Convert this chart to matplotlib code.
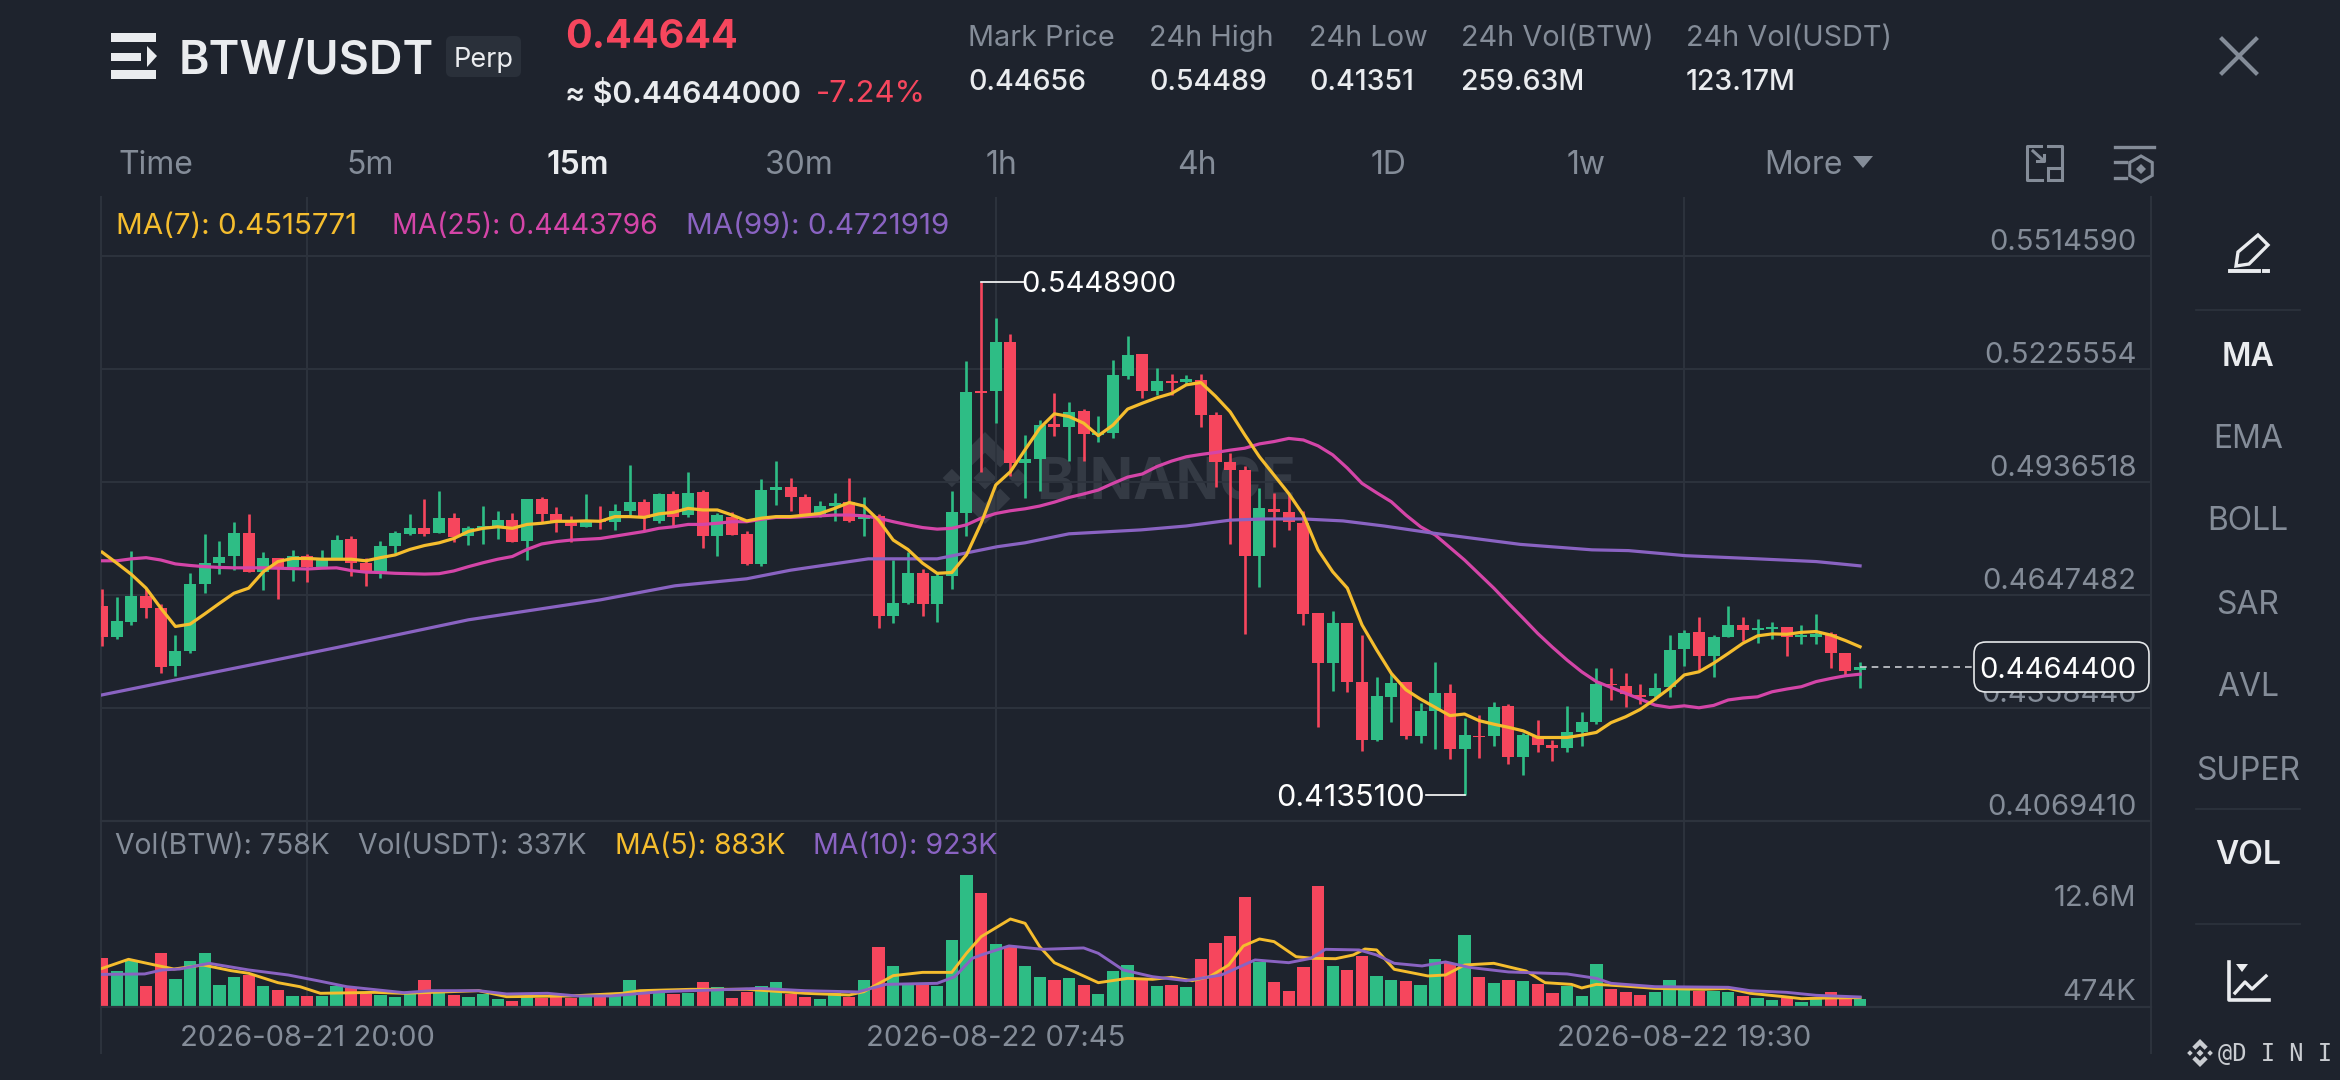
import matplotlib
matplotlib.use('Agg')
import matplotlib.pyplot as plt
from matplotlib.patches import FancyBboxPatch, Polygon, Rectangle, RegularPolygon
import numpy as np

plt.rcParams['font.family'] = ['Inter', 'DejaVu Sans']

# candles
opens = [.4620, .4539, .4579, .4645, .4614, .4465, .4504, .4676, .4730, .4746, .4805, .4707, .4741, .4718, .4747, .4720,
         .4741, .4790, .4730, .4707, .4774, .4803, .4820, .4805, .4844, .4799, .4816, .4824, .4839, .4786, .4893, .4854,
         .4837, .4822, .4839, .4833, .4863, .4886, .4838, .4905, .4852, .4910, .4799, .4848, .4803, .4727, .4917, .4925,
         .4897, .4855, .4875, .4885, .4841, .4850, .4595, .4626, .4703, .4624, .4696, .4856, .5170, .5169, .5294, .4984,
         .4995, .5085, .5076, .5119, .5057, .5063, .5208, .5263, .5169, .5196, .5193, .5197, .5108, .4988, .4967, .4747,
         .4868, .4859, .4832, .4601, .4473, .4576, .4426, .4277, .4387, .4426, .4288, .4352, .4398, .4254, .4288, .4287,
         .4364, .4234, .4287, .4264, .4255, .4298, .4323, .4420, .4415, .4390, .4390, .4411, .4509, .4552, .4491, .4541,
         .4571, .4558, .4561, .4565, .4539, .4541, .4549, .4500, .4456]
highs = [.4662, .4643, .4761, .4665, .4625, .4545, .4705, .4804, .4786, .4834, .4855, .4757, .4743, .4763, .4752, .4763,
         .4802, .4798, .4743, .4786, .4812, .4855, .4894, .4913, .4856, .4824, .4874, .4863, .4858, .4893, .4897, .4872,
         .4850, .4905, .4874, .4879, .4979, .4894, .4908, .4914, .4961, .4916, .4856, .4861, .4811, .4944, .4989, .4946,
         .4905, .4889, .4909, .4946, .4897, .4855, .4737, .4758, .4713, .4707, .4914, .5247, .54489, .5357, .5315, .5057,
         .5095, .5163, .5142, .5123, .5106, .5249, .5310, .5265, .5229, .5214, .5210, .5212, .5115, .5010, .4978, .4920,
         .4909, .4906, .4863, .4601, .4607, .4576, .4545, .4438, .4447, .4426, .4372, .4476, .4421, .4332, .4340, .4374,
         .4368, .4294, .4328, .4277, .4363, .4348, .4460, .4460, .4447, .4419, .4447, .4546, .4558, .4590, .4545, .4619,
         .4591, .4585, .4579, .4566, .4571, .4599, .4554, .4500, .4476]
lows = [.4518, .4536, .4570, .4588, .4447, .4441, .4498, .4652, .4701, .4711, .4707, .4660, .4638, .4683, .4682, .4720,
        .4741, .4697, .4671, .4692, .4756, .4800, .4799, .4805, .4783, .4775, .4778, .4790, .4783, .4737, .4831, .4809,
        .4783, .4821, .4816, .4814, .4848, .4810, .4831, .4822, .4848, .4767, .4747, .4802, .4723, .4722, .4878, .4863,
        .4852, .4848, .4837, .4835, .4798, .4563, .4575, .4625, .4595, .4579, .4662, .4798, .4963, .5087, .4952, .4896,
        .4914, .5055, .4991, .4989, .5039, .5050, .5201, .5152, .5158, .5159, .5187, .5076, .4925, .4778, .4549, .4669,
        .4769, .4814, .4571, .4309, .4403, .4399, .4249, .4273, .4323, .4279, .4270, .4254, .4229, .41351, .4231, .4260,
        .4215, .4186, .4245, .4224, .4245, .4261, .4318, .4379, .4360, .4369, .4379, .4387, .4466, .4456, .4439, .4539,
        .4530, .4525, .4534, .4491, .4521, .4522, .4462, .4440, .4410]
closes = [.4541, .4582, .4645, .4613, .4464, .4504, .4676, .4730, .4744, .4805, .4707, .4743, .4716, .4746, .4718, .4743,
          .4788, .4729, .4704, .4774, .4805, .4820, .4803, .4844, .4797, .4818, .4825, .4839, .4783, .4893, .4855, .4835,
          .4824, .4833, .4834, .4863, .4886, .4844, .4905, .4848, .4909, .4799, .4851, .4802, .4726, .4916, .4925, .4897,
          .4855, .4875, .4882, .4838, .4848, .4595, .4626, .4703, .4624, .4696, .4859, .5167, .5163, .5294, .4986, .4995,
          .5082, .5078, .5116, .5059, .5063, .5209, .5261, .5170, .5195, .5189, .5199, .5108, .4988, .4967, .4747, .4869,
          .4861, .4835, .4600, .4473, .4576, .4426, .4277, .4389, .4423, .4287, .4351, .4398, .4254, .4289, .4283, .4362,
          .4234, .4289, .4264, .4255, .4298, .4323, .4420, .4416, .4394, .4386, .4410, .4508, .4551, .4491, .4541, .4571,
          .4558, .4563, .4566, .4539, .4545, .4548, .4500, .4454, .44644]
volumes = [4.69, 3.45, 4.37, 2.03, 5.13, 2.66, 4.40, 5.13, 2.06, 2.88, 3.01, 2.03, 1.58, 1.01, 1.08, 1.08, 2.00, 1.77,
           1.20, 1.17, .95, 1.30, 2.57, 1.36, 1.11, .98, 1.20, .79, .60, .92, .89, .92, .82, .92, .92, 1.36, 2.60, 1.30,
           1.36, 1.20, 1.36, 2.38, 1.93, .86, 1.39, 2.00, 2.38, 1.24, .95, .79, 1.30, .98, 2.53, 5.67, 3.86, 2.25, 2.19,
           1.96, 6.37, 12.57, 10.86, 5.95, 5.80, 3.93, 2.85, 2.57, 2.79, 2.12, 1.27, 3.39, 3.96, 2.57, 1.96, 2.09, 1.90,
           4.53, 6.11, 6.75, 10.42, 4.31, 2.41, 1.52, 3.83, 11.50, 3.90, 3.55, 4.85, 2.95, 2.53, 2.44, 2.12, 4.56, 4.15,
           6.81, 2.88, 2.31, 2.57, 2.44, 2.22, 1.33, 2.00, 1.08, 4.12, 1.74, 1.43, 1.14, 1.43, 2.60, 1.62, 1.55, 1.52,
           1.46, 1.05, .82, .70, .89, .51, .73, 1.43, .86, .76]

# moving averages
ma7 = [.4757, .4729, .4700, .4665, .4614, .4567, .4573, .4599, .4626, .4652, .4665, .4707, .4733, .4741, .4741, .4739,
       .4739, .4739, .4735, .4743, .4750, .4764, .4774, .4781, .4792, .4810, .4818, .4822, .4818, .4828, .4831, .4836,
       .4836, .4837, .4836, .4848, .4848, .4846, .4855, .4859, .4869, .4865, .4865, .4852, .4837, .4844, .4848, .4848,
       .4852, .4856, .4869, .4884, .4875, .4839, .4788, .4764, .4729, .4703, .4705, .4750, .4831, .4929, .4963, .5019,
       .5074, .5111, .5104, .5087, .5055, .5082, .5123, .5138, .5152, .5163, .5185, .5191, .5156, .5116, .5057, .5001,
       .4954, .4907, .4852, .4763, .4707, .4665, .4571, .4507, .4447, .4405, .4381, .4360, .4339, .4343, .4326, .4317,
       .4309, .4300, .4283, .4283, .4283, .4289, .4296, .4321, .4336, .4355, .4381, .4409, .4443, .4451, .4473, .4498,
       .4524, .4543, .4548, .4547, .4552, .4554, .4545, .4531, .4515]
ma25 = [.4735, .4735, .4740, .4743, .4737, .4727, .4723, .4720, .4718, .4717, .4717, .4717, .4716, .4715, .4714, .4716,
        .4717, .4710, .4706, .4705, .4703, .4702, .4701, .4702, .4709, .4720, .4730, .4739, .4746, .4764, .4778, .4784,
        .4788, .4790, .4792, .4798, .4804, .4810, .4818, .4822, .4828, .4828, .4831, .4835, .4835, .4841, .4846, .4846,
        .4848, .4850, .4852, .4852, .4850, .4844, .4835, .4827, .4820, .4816, .4818, .4827, .4844, .4856, .4863, .4868,
        .4875, .4885, .4897, .4906, .4916, .4933, .4949, .4957, .4976, .4990, .5001, .5007, .5012, .5018, .5023, .5034,
        .5040, .5048, .5044, .5029, .5006, .4972, .4933, .4909, .4886, .4852, .4822, .4801, .4769, .4737, .4701, .4665,
        .4626, .4588, .4549, .4514, .4481, .4451, .4426, .4411, .4396, .4381, .4366, .4360, .4364, .4359, .4365, .4379,
        .4384, .4387, .4400, .4407, .4413, .4426, .4434, .4441, .4445]
ma99_x = [0, 5, 11, 16, 25, 34, 39.1, 44, 47, 52.3, 57, 61.1, 63, 66, 70.9, 74, 77, 79.3, 82, 84.7, 87.5, 90.6, 96.8,
          101.7, 104.2, 108.1, 113, 117, 120]
ma99 = [.4392, .4430, .4475, .4513, .4584, .4635, .4671, .4689, .4711, .4740, .4740, .4771, .4781, .4804, .4814, .4824,
        .4839, .4842, .4842, .4837, .4824, .4807, .4777, .4763, .4761, .4748, .4740, .4733, .4722]
vol_ma5_x = [0, 1.8, 3.9, 4.9, 6.9, 8.8, 10, 12, 13.5, 14.9, 18.6, 20.6, 25.7, 27.6, 32, 35.5, 36.7, 40.2, 44, 48, 51,
             52, 54, 56, 58, 59, 60, 62, 63, 64, 65, 66.6, 68, 70, 71.7, 73, 74.4, 75.6, 76.9, 77.9, 79, 80, 81.5, 82.7,
             84.2, 85.4, 86.2, 87, 88.2, 90.5, 91.7, 93, 95, 97.2, 98.5, 100.3, 101, 102, 103.8, 106, 109.3, 111, 112.5,
             114.8, 116, 118, 120]
vol_ma5 = [3.67, 4.53, 3.90, 3.61, 3.99, 3.45, 3.20, 2.31, 1.93, 1.30, 1.39, 1.30, 1.55, .98, 1.05, 1.30, 1.55, 1.68,
           1.68, 1.30, 1.14, 1.46, 2.98, 3.29, 3.29, 5.10, 6.68, 8.36, 7.95, 5.73, 4.21, 3.20, 2.31, 2.72, 2.63, 2.82,
           2.50, 2.88, 3.99, 5.80, 6.46, 6.21, 4.78, 4.62, 4.59, 4.94, 5.51, 5.42, 3.58, 2.95, 3.04, 3.99, 4.15, 3.42,
           2.31, 2.15, 1.81, 2.15, 2.00, 1.77, 1.68, 1.77, 1.30, .98, .79, .86, .89]
vol_ma10_x = [0, 2.9, 4.1, 5.3, 7.3, 10, 12.7, 14.7, 16.7, 20.6, 22.5, 25.7, 27.6, 30.4, 32.4, 34.7, 38.2, 41.8, 44.9,
              48, 51.6, 53.5, 57, 58.2, 59.4, 60, 61.9, 64.2, 67, 68, 69.7, 71.7, 74, 76.4, 78.7, 81, 82.5, 83.5, 85.8,
              87, 88.2, 90.1, 91.7, 93.3, 96, 100, 102, 103, 106, 111, 112.5, 115, 117, 120]
vol_ma10 = [3.10, 3.14, 3.52, 3.61, 4.15, 3.52, 3.04, 2.50, 1.93, 1.36, 1.55, 1.55, 1.24, 1.30, 1.05, 1.05, 1.46, 1.62,
            1.77, 1.55, 1.43, 2.15, 2.25, 2.88, 4.62, 4.94, 5.80, 5.48, 5.61, 5.10, 3.52, 2.88, 2.50, 3.04, 4.47, 4.21,
            4.62, 5.48, 5.42, 4.94, 4.15, 3.90, 4.28, 3.77, 3.33, 3.14, 2.72, 2.25, 1.93, 1.87, 1.55, 1.39, 1.11, .95]

price_ticks = [0.5514590, 0.5225554, 0.4936518, 0.4647482, 0.4358446, 0.4069410]
date_ticks = [14, 61, 108]
date_labels = ['2026-08-21 20:00', '2026-08-22 07:45', '2026-08-22 19:30']
last_price = 0.44644

BG = '#1e232d'
GRID = '#2d333d'
GREEN = '#2ebd85'
RED = '#f6465d'
YELLOW_LINE = '#f5bd2e'
PINK = '#d445a8'
PURPLE = '#8a63c2'
WHITE = '#eaecef'
GRAY = '#848c98'

W, H = 2340, 1080
fig = plt.figure(figsize=(W / 100, H / 100), dpi=100, facecolor=BG)


def px_axes(zorder):
    a = fig.add_axes([0, 0, 1, 1], zorder=zorder)
    a.set_xlim(0, W)
    a.set_ylim(H, 0)
    a.axis('off')
    return a


def panel(top, bottom, left=100.7, right=2151):
    return [left / W, 1 - bottom / H, (right - left) / W, (bottom - top) / H]


back = px_axes(0)
ax = fig.add_axes(panel(197, 821), zorder=1, facecolor='none')
vol_ax = fig.add_axes(panel(821, 1007), zorder=1, facecolor='none', sharex=ax)
ui = px_axes(3)

x = np.arange(len(closes))
o, h, l, c = map(np.array, (opens, highs, lows, closes))
colors = [GREEN if up else RED for up in c >= o]

# price panel
ax.vlines(x, l, h, colors=colors, linewidth=1.9, zorder=2)
ax.bar(x, np.maximum(np.abs(c - o), 0.0005), bottom=np.minimum(o, c), width=0.82, color=colors, zorder=3)
ax.plot(x, ma25, color=PINK, lw=2.3, zorder=4)
ax.plot(ma99_x, ma99, color=PURPLE, lw=2.3, zorder=4)
ax.plot(x, ma7, color=YELLOW_LINE, lw=2.3, zorder=5)
ax.set_xlim(-0.1, 139.86)
ax.set_ylim(0.406941, 0.566551)
ax.set_yticks(price_ticks)
ax.set_xticks(date_ticks)
ax.grid(True, color=GRID, lw=1.4)
ax.set_axisbelow(True)
ax.tick_params(length=0, labelleft=False, labelbottom=False)
for s in ax.spines.values():
    s.set_visible(False)
for t in price_ticks:
    ax.annotate(f'{t:.7f}', (1, t), xycoords=('axes fraction', 'data'), xytext=(-10.5, 9.5),
                textcoords='offset points', ha='right', va='center', color=GRAY, fontsize=21)

# high / low marks
hi = int(np.argmax(h))
lo = int(np.argmin(l))
ax.plot([hi, hi + 2.9], [h[hi], h[hi]], color='white', lw=1.2, zorder=6)
ax.plot([lo - 2.6, lo], [l[lo], l[lo]], color='white', lw=1.2, zorder=6)
ax.annotate(f'{h[hi]:.7f}', (hi + 2.9, h[hi]), xytext=(-2, -2), textcoords='offset points', color='white',
            fontsize=21, va='center', ha='left', zorder=6)
ax.annotate(f'{l[lo]:.7f}', (lo - 2.7, l[lo]), xytext=(0, -2), textcoords='offset points', color='white',
            fontsize=22, va='center', ha='right', zorder=6)
ax.plot([x[-1], 139.86], [last_price, last_price], color='#c9ccd1', lw=1.2, ls=(0, (4, 3)), zorder=6)

# volume panel
vol_ax.bar(x, volumes, width=0.84, color=colors, zorder=2)
vol_ax.plot(vol_ma5_x, vol_ma5, color=YELLOW_LINE, lw=2.1, zorder=3)
vol_ax.plot(vol_ma10_x, vol_ma10, color=PURPLE, lw=2.1, zorder=3)
vol_ax.set_ylim(0, 17.67)
vol_ax.set_xticks(date_ticks)
vol_ax.set_xticklabels(date_labels, color=GRAY, fontsize=21)
vol_ax.set_yticks([])
vol_ax.tick_params(length=0, pad=13)
vol_ax.grid(True, axis='x', color=GRID, lw=1.4)
vol_ax.set_axisbelow(True)
for name, s in vol_ax.spines.items():
    s.set_visible(name == 'bottom' or name == 'top')
    s.set_color(GRID)
    s.set_linewidth(1.6)

# frame lines left and right
for fx in (100.7, 2151):
    back.plot([fx, fx], [197, 1053], color=GRID, lw=1.4)


def diamond_logo(a, cx, cy, r, color):
    small = r * 0.2
    for dx, dy, s in [(0, 0, r * 0.25), (-r * 0.72, 0, small), (r * 0.72, 0, small)]:
        a.add_patch(Polygon([(cx + dx - s, cy + dy), (cx + dx, cy + dy - s), (cx + dx + s, cy + dy),
                             (cx + dx, cy + dy + s)], color=color, lw=0))
    for d in (-1, 1):
        pts = [(0, 1), (.55, .45), (.33, .23), (0, .55), (-.33, .23), (-.55, .45)]
        a.add_patch(Polygon([(cx + px * r, cy + d * py * r) for px, py in pts], color=color, lw=0))


# watermark
diamond_logo(back, 985, 478, 46, '#343a44')
back.text(1036, 484, 'BINANCE', color='#343a44', fontsize=41, fontweight='bold', va='center', ha='left')


def txt(px, py, s, color=GRAY, size=20, weight='normal', ha='left', **kw):
    # matplotlib centres on the text box, which sits a bit high for these labels
    ui.text(px, py + 5, s, color=color, fontsize=size, fontweight=weight, ha=ha, va='center', **kw)


# header
ui.add_patch(Rectangle((111, 33), 45, 9, color=WHITE, lw=0))
ui.add_patch(Rectangle((111, 70), 45, 9, color=WHITE, lw=0))
ui.add_patch(Rectangle((111, 53), 30, 8, color=WHITE, lw=0))
ui.add_patch(Polygon([(147, 46), (157, 56), (147, 67)], color=WHITE, lw=0))
txt(179, 57, 'BTW/USDT', WHITE, 33.5, 'semibold')
ui.add_patch(FancyBboxPatch((446, 36), 75, 41, boxstyle='round,pad=0,rounding_size=6', color='#2a303a', lw=0))
txt(484, 55, 'Perp', WHITE, 19.5, ha='center')
txt(565, 33, '0.44644', RED, 28.5, 'bold')
txt(565, 89, '≈ $0.44644000', WHITE, 21.7, 'semibold')
txt(816, 89, '-7.24%', RED, 22.3)

stat_x = [968, 1149, 1309, 1461, 1686]
stat_names = ['Mark Price', '24h High', '24h Low', '24h Vol(BTW)', '24h Vol(USDT)']
stat_values = ['0.44656', '0.54489', '0.41351', '259.63M', '123.17M']
for sx, name, val in zip(stat_x, stat_names, stat_values):
    txt(sx, 33, name, GRAY, 20.8)
    txt(sx, 78, val, WHITE, 20.5, 'medium')

tab_x = [118, 346, 546, 765, 986, 1177, 1371, 1567, 1764]
tab_names = ['Time', '5m', '15m', '30m', '1h', '4h', '1D', '1w', 'More']
for tx, name in zip(tab_x, tab_names):
    if name == '15m':
        txt(tx, 161, name, WHITE, 23, 'semibold')
    else:
        txt(tx, 161, name, GRAY, 23)
ui.add_patch(Polygon([(1853, 156), (1873, 156), (1863, 168)], color=GRAY, lw=0))

# legends
txt(116, 222, 'MA(7): 0.4515771', YELLOW_LINE, 21.3)
txt(392, 222, 'MA(25): 0.4443796', PINK, 20.4)
txt(686, 222, 'MA(99): 0.4721919', PURPLE, 21.3)
txt(115, 841, 'Vol(BTW): 758K', GRAY, 20.4)
txt(358, 841, 'Vol(USDT): 337K', GRAY, 20.4)
txt(615, 841, 'MA(5): 883K', YELLOW_LINE, 20.4)
txt(813, 841, 'MA(10): 923K', PURPLE, 20.6)

# volume axis labels
txt(2136, 894, '12.6M', GRAY, 21, ha='right')
txt(2136, 987, '474K', GRAY, 21, ha='right')

# current price pill
ui.add_patch(FancyBboxPatch((1974, 642), 175, 50, boxstyle='round,pad=0,rounding_size=12', facecolor=BG,
                            edgecolor='#e6e8ea', lw=1.2))
txt(2136, 665, '0.4464400', 'white', 21, ha='right')

# right column
side_y = [352, 435, 517, 601, 683, 767, 850]
side_names = ['MA', 'EMA', 'BOLL', 'SAR', 'AVL', 'SUPER', 'VOL']
for sy, name in zip(side_y, side_names):
    if name in ('MA', 'VOL'):
        txt(2248, sy, name, WHITE, 23, 'semibold', ha='center')
    else:
        txt(2248, sy, name, GRAY, 23, ha='center')
for sy in (310, 809, 924):
    back.plot([2196, 2300], [sy, sy], color=GRID, lw=1.2)

# close
ui.plot([2222, 2256], [39, 73], color=GRAY, lw=3)
ui.plot([2222, 2256], [73, 39], color=GRAY, lw=3)

# layout icon
ui.plot([2041, 2027, 2027, 2042], [146, 146, 180, 180], color=GRAY, lw=2.2)
ui.plot([2048, 2062, 2062], [146, 146, 165], color=GRAY, lw=2.2)
ui.add_patch(Rectangle((2048, 168), 14, 12, fill=False, edgecolor=GRAY, lw=2.2))
ui.plot([2033, 2044], [151, 161], color=GRAY, lw=2.2)
ui.plot([2037, 2044, 2044], [161, 161, 155], color=GRAY, lw=2.2)

# settings icon
ui.plot([2115, 2154], [147, 147], color=GRAY, lw=2.4)
ui.plot([2115, 2126], [162, 162], color=GRAY, lw=2.4)
ui.plot([2115, 2126], [178, 178], color=GRAY, lw=2.4)
ui.add_patch(RegularPolygon((2141, 169), 6, radius=13, fill=False, edgecolor=GRAY, lw=2.2))
ui.add_patch(RegularPolygon((2141, 169), 4, radius=5, color=GRAY, lw=0))

# pencil
ui.add_patch(Polygon([(2238, 252), (2258, 235), (2268, 245), (2249, 264), (2236, 266)], fill=False,
                     edgecolor=WHITE, lw=2.4))
ui.plot([2230, 2259], [271, 271], color=WHITE, lw=2.8)
ui.plot([2264, 2268], [271, 271], color=WHITE, lw=2.8)

# chart icon
ui.plot([2229, 2229, 2269], [962, 1000, 1000], color=WHITE, lw=2.6)
ui.plot([2235, 2245, 2252, 2266], [993, 982, 989, 976], color=WHITE, lw=2.4)
ui.add_patch(Polygon([(2236, 964), (2248, 964), (2242, 972)], color=WHITE, lw=0))

# footer mark
diamond_logo(ui, 2200, 1053, 14, '#c9ccd1')
ui.text(2218, 1054, '@D I N I', color='#c9ccd1', fontsize=17, family=['DejaVu Sans Mono'], va='center', ha='left')

fig.savefig('out.png', dpi=100, facecolor=BG)
